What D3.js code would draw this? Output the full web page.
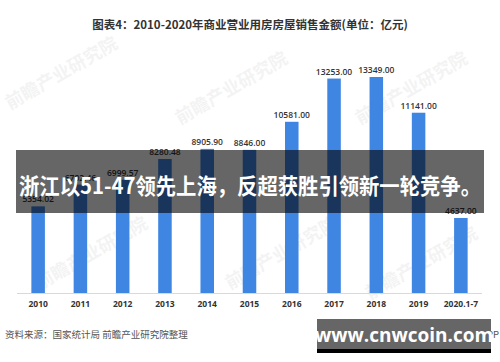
<!DOCTYPE html>
<html><head><meta charset="utf-8">
<script src="https://cdn.jsdelivr.net/npm/d3@7/dist/d3.min.js"></script>
<style>body{margin:0;background:#fff}svg{display:block}</style>
</head><body>
<svg id="c" width="500" height="362"></svg>
<script>
const categories = ["2010","2011","2012","2013","2014","2015","2016","2017","2018","2019","2020.1-7"];
const values = [5354.02,6702.46,6999.57,8280.48,8905.90,8846.00,10581.00,13253.00,13349.00,11141.00,4637.00];
const labels = ["5354.02","6702.46","6999.57","8280.48","8905.90","8846.00","10581.00","13253.00","13349.00","11141.00","4637.00"];
const title = "图表4：2010-2020年商业营业用房房屋销售金额(单位：亿元)";
const overlayText = "浙江以51-47领先上海，反超获胜引领新一轮竞争。";
const source = "资料来源：国家统计局 前瞻产业研究院整理";
const siteText = "www.cnwcoin.com";

const svg = d3.select("#c");
const font = "'Noto Sans CJK SC','Noto Sans',sans-serif";

// watermarks
const wm = [[10,110],[180,125],[360,125],[40,290],[230,290],[370,300]];
wm.forEach(([x,y])=>{
  svg.append("text").attr("x",x).attr("y",y).attr("transform",`rotate(-30,${x},${y})`)
    .attr("font-family",font).attr("font-size",18).attr("font-weight",700)
    .attr("fill","#000").attr("opacity",0.045).text("前瞻产业研究院");
});

svg.append("text").attr("x",250).attr("y",29).attr("text-anchor","middle")
  .attr("font-family",font).attr("font-size",11.5).attr("font-weight",700).attr("fill","#333").text(title);

const x = d3.scaleBand().domain(categories).range([17,482]).paddingInner(0.68).paddingOuter(0.34);
const y = d3.scaleLinear().domain([0,13349]).range([293,77]);

svg.append("g").selectAll("rect").data(values).join("rect")
  .attr("x",(d,i)=>x(categories[i])).attr("width",x.bandwidth())
  .attr("y",d=>y(d)).attr("height",d=>y(0)-y(d)).attr("fill","#3F86E3");

svg.append("g").selectAll("text").data(values).join("text")
  .attr("x",(d,i)=>x(categories[i])+x.bandwidth()/2).attr("y",d=>y(d)-4)
  .attr("text-anchor","middle").attr("font-family","'Open Sans',sans-serif").attr("font-size",8.5).attr("font-weight",600)
  .attr("fill","#333").text((d,i)=>labels[i]);

const ax = svg.append("g").attr("transform","translate(0,293)")
  .call(d3.axisBottom(x).tickSize(0).tickPadding(8));
ax.select(".domain").attr("stroke","#d9d9d9").attr("d","M17,0.5H482");
ax.selectAll("text").attr("font-family","'Open Sans',sans-serif").attr("font-size",8.5).attr("font-weight",700).attr("fill","#333");

// overlay band
svg.append("rect").attr("x",16).attr("y",150).attr("width",468).attr("height",63).attr("fill","#000").attr("opacity",0.6);
svg.append("text").attr("x",250).attr("y",194).attr("text-anchor","middle")
  .attr("font-family",font).attr("font-size",22).attr("font-weight",700).attr("fill","#fff")
  .attr("textLength",462).attr("lengthAdjust","spacingAndGlyphs").text(overlayText);

svg.append("text").attr("x",5).attr("y",338).attr("font-family",font).attr("font-size",9.5).attr("fill","#555").text(source);
svg.append("text").attr("x",499).attr("y",338).attr("text-anchor","end").attr("font-family",font).attr("font-size",9.5).attr("fill","#555").text("前瞻经济学人APP");

svg.append("rect").attr("x",317).attr("y",319).attr("width",174).attr("height",34).attr("fill","#666");
svg.append("rect").attr("x",317).attr("y",349).attr("width",174).attr("height",4).attr("fill","#000");
svg.append("text").attr("x",404).attr("y",342).attr("text-anchor","middle")
  .attr("font-family","'Open Sans',sans-serif").attr("font-size",19).attr("font-weight",700).attr("fill","#fff").text(siteText);
</script>
</body></html>
